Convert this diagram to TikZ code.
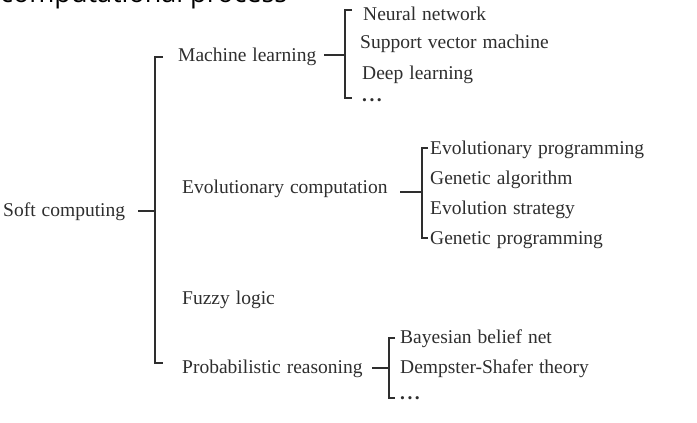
\documentclass[tikz,border=0pt]{standalone}
\usepackage{fontspec}
\setmainfont{Liberation Serif}
\newfontfamily\headfont{Open Sans}
\definecolor{ink}{HTML}{2E2E2E}
\newcommand{\threedots}{\textbf{.\hspace{2.5pt}.\hspace{2.5pt}.}}
\newcommand{\lblfont}{\fontsize{19.5}{22}\selectfont\spaceskip=6pt\relax}
\begin{document}
\begin{tikzpicture}[x=1pt,y=-1pt,
  lbl/.style={anchor=base west, inner sep=0pt, text=ink, font=\lblfont},
  brk/.style={draw=ink, line width=1.4pt},
  tick/.style={draw=ink, line width=1.4pt}]
\useasboundingbox (0,0) rectangle (697,423);
\clip (0,0) rectangle (697,423);
% cut-off heading
\node[anchor=base west, inner sep=0pt, text=black, font=\headfont\fontsize{27}{32}\selectfont] (head) at (0,2.5) {computational process};
% labels
\node[lbl] (soft) at (3,216) {Soft computing};
\node[lbl] (ml) at (178,61) {Machine learning};
\node[lbl] (ec) at (182,193) {Evolutionary computation};
\node[lbl] (fl) at (182,304) {Fuzzy logic};
\node[lbl] (pr) at (182,373) {Probabilistic reasoning};
\node[lbl] (nn) at (363,20) {Neural network};
\node[lbl] (svm) at (360,48) {Support vector machine};
\node[lbl] (dl) at (362,79) {Deep learning};
\node[lbl] (mld) at (362,101) {\threedots};
\node[lbl] (ep) at (430,154) {Evolutionary programming};
\node[lbl] (ga) at (430,184) {Genetic algorithm};
\node[lbl] (es) at (430,214) {Evolution strategy};
\node[lbl] (gp) at (430,244) {Genetic programming};
\node[lbl] (bbn) at (400,343) {Bayesian belief net};
\node[lbl] (dst) at (400,373) {Dempster-Shafer theory};
\node[lbl] (prd) at (400,399) {\threedots};
% bracket coordinates
\coordinate (mainT) at (155,57);
\coordinate (mainB) at (155,363);
\coordinate (mlT) at (345,10);
\coordinate (mlB) at (345,98);
\coordinate (ecT) at (422,148);
\coordinate (ecB) at (422,238);
\coordinate (prT) at (389,338);
\coordinate (prB) at (389,398);
% brackets
\draw[brk] ([xshift=8pt]mainT) -- (mainT) -- (mainB) -- ([xshift=8pt]mainB);
\draw[brk] ([xshift=7pt]mlT) -- (mlT) -- (mlB) -- ([xshift=7pt]mlB);
\draw[brk] ([xshift=6pt]ecT) -- (ecT) -- (ecB) -- ([xshift=6pt]ecB);
\draw[brk] ([xshift=6pt]prT) -- (prT) -- (prB) -- ([xshift=6pt]prB);
% connector dashes
\coordinate (softd) at (138,211);
\coordinate (mld0) at (324,55);
\coordinate (ecd) at (400,192);
\coordinate (prd0) at (372,368);
\draw[tick] (softd) -- (softd -| mainT);
\draw[tick] (mld0) -- (mld0 -| mlT);
\draw[tick] (ecd) -- (ecd -| ecT);
\draw[tick] (prd0) -- (prd0 -| prT);
\end{tikzpicture}
\end{document}
